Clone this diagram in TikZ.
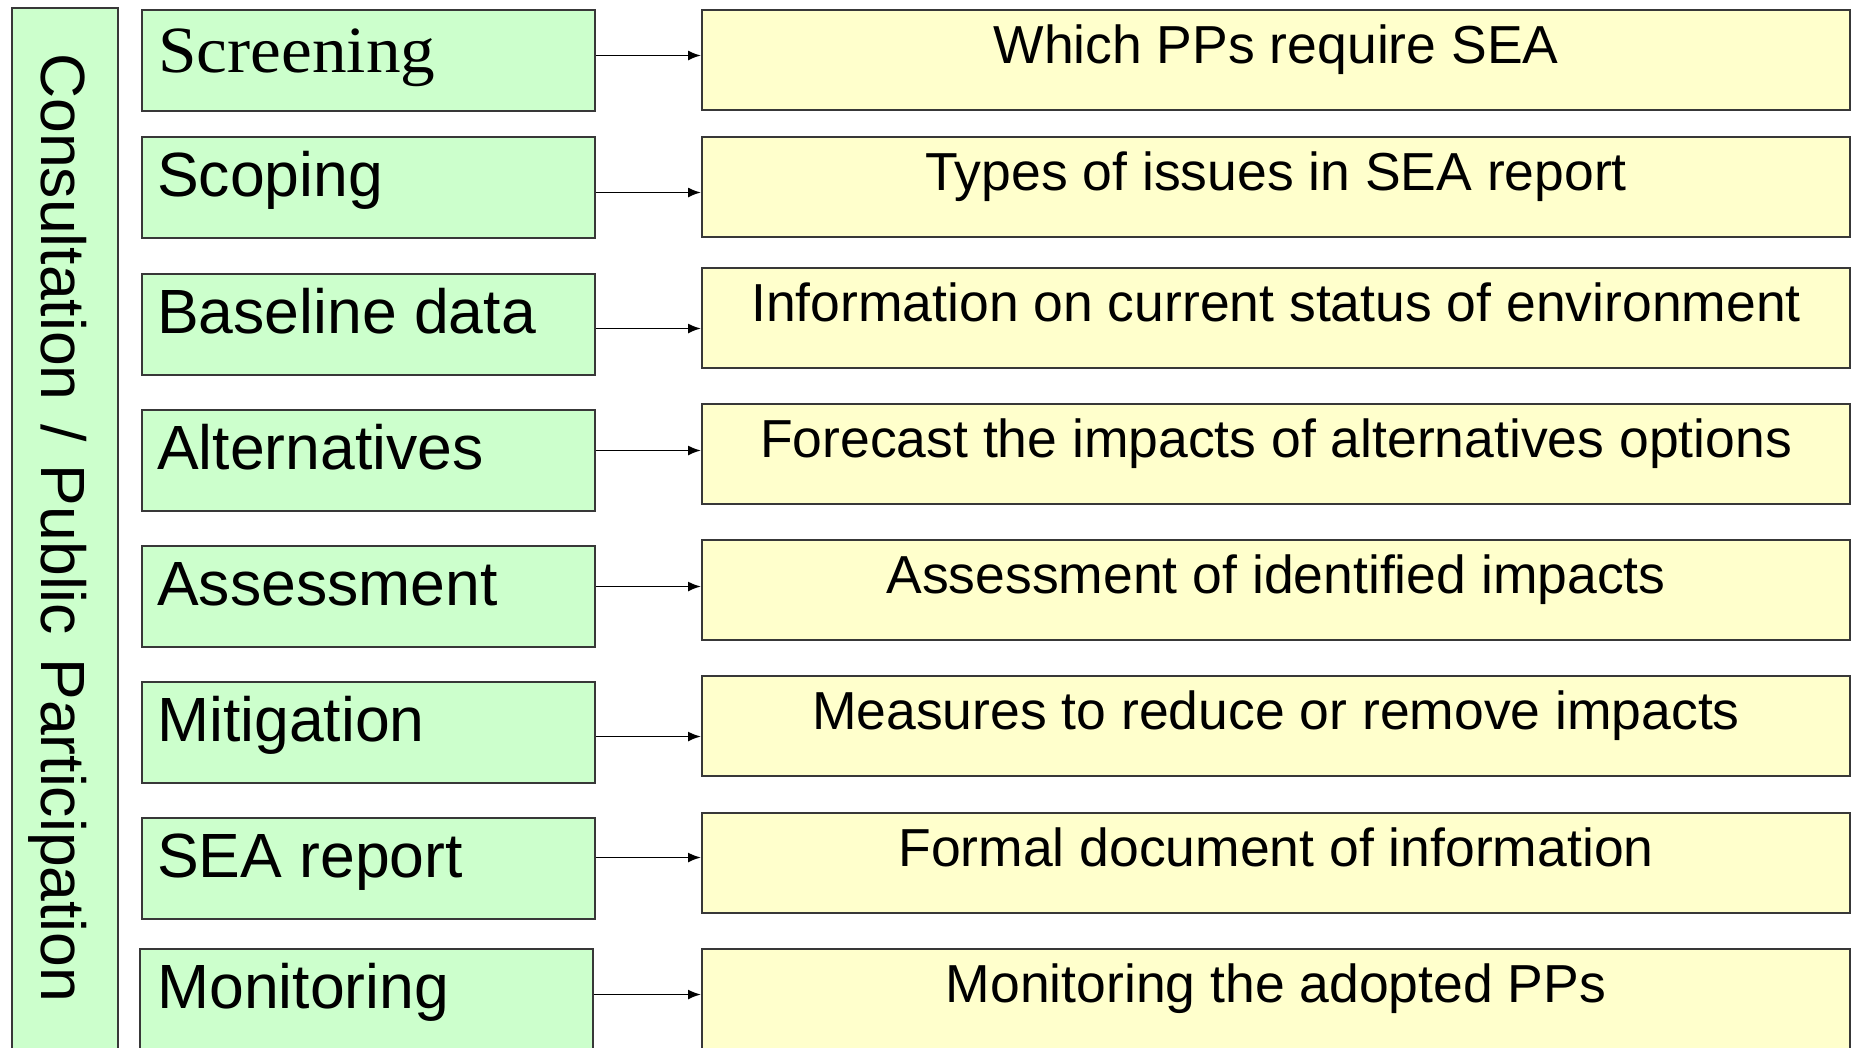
\documentclass[tikz,border=0pt]{standalone}
\usepackage{fontspec}
\setmainfont{Liberation Sans}
\newfontfamily\serifface{Liberation Serif}
\newfontfamily\sideface[WordSpace=1.35]{Liberation Sans}
\usetikzlibrary{arrows.meta}
\definecolor{stepgreen}{HTML}{CCFFCC}
\definecolor{noteyellow}{HTML}{FFFFCC}
\definecolor{edgegray}{HTML}{383838}
\tikzset{
  boxbase/.style={draw=edgegray, line width=2pt, rectangle, inner sep=0pt, anchor=north west},
  greenbox/.style={boxbase, fill=stepgreen, minimum width=453pt, minimum height=101pt},
  yellowbox/.style={boxbase, fill=noteyellow, minimum width=1148pt, minimum height=100pt},
  steptext/.style={anchor=base west, inner sep=0pt, font=\fontsize{62.5}{62.5}\selectfont},
  notetext/.style={anchor=base, inner sep=0pt, font=\fontsize{53.5}{53.5}\selectfont},
  flow/.style={draw=black, line width=1.7pt, -{Latex[length=13pt,width=10pt]}}
}
\begin{document}
\begin{tikzpicture}[x=1pt,y=-1pt]
\useasboundingbox (0,0) rectangle (1853,1047);
\fill[white] (0,0) rectangle (1853,1047);
\clip (0,0) rectangle (1853,1047);

% side bar for consultation
\node[boxbase, fill=stepgreen, minimum width=106pt, minimum height=1060pt] (side) at (11,7) {};
\node[anchor=base west, inner sep=0pt, rotate=-90,
      font=\sideface\fontsize{62.5}{62.5}\selectfont] (sidetext) at (41,53)
      {Consultation / Public Participation};

% step boxes (left column)
\node[greenbox] (g1) at (141,9) {};
\node[greenbox] (g2) at (141,136) {};
\node[greenbox] (g3) at (141,273) {};
\node[greenbox] (g4) at (141,409) {};
\node[greenbox] (g5) at (141,545) {};
\node[greenbox] (g6) at (141,681) {};
\node[greenbox] (g7) at (141,817) {};
\node[greenbox] (g8) at (139,948) {};

\node[anchor=base west, inner sep=0pt, font=\serifface\fontsize{66}{66}\selectfont]
  (t1) at ([xshift=17pt,yshift=-63pt]g1.north west) {\scalebox{1.05}[1]{Screening}};
\node[steptext] (t2) at ([xshift=16pt,yshift=-60pt]g2.north west) {Scoping};
\node[steptext] (t3) at ([xshift=16pt,yshift=-60pt]g3.north west) {Baseline data};
\node[steptext] (t4) at ([xshift=16pt,yshift=-60pt]g4.north west) {Alternatives};
\node[steptext] (t5) at ([xshift=16pt,yshift=-60pt]g5.north west) {Assessment};
\node[steptext] (t6) at ([xshift=16pt,yshift=-60pt]g6.north west) {Mitigation};
\node[steptext] (t7) at ([xshift=16pt,yshift=-60pt]g7.north west) {SEA report};
\node[steptext] (t8) at ([xshift=18pt,yshift=-60pt]g8.north west) {Monitoring};

% description boxes (right column)
\node[yellowbox] (y1) at (701,9) {};
\node[yellowbox] (y2) at (701,136) {};
\node[yellowbox] (y3) at (701,267) {};
\node[yellowbox] (y4) at (701,403) {};
\node[yellowbox] (y5) at (701,539) {};
\node[yellowbox] (y6) at (701,675) {};
\node[yellowbox] (y7) at (701,812) {};
\node[yellowbox] (y8) at (701,948) {};

\node[notetext] (d1) at ([yshift=-54pt]y1.north) {Which PPs require SEA};
\node[notetext] (d2) at ([yshift=-54pt]y2.north) {Types of issues in SEA report};
\node[notetext] (d3) at ([yshift=-54pt]y3.north) {Information on current status of environment};
\node[notetext] (d4) at ([yshift=-54pt]y4.north) {Forecast the impacts of alternatives options};
\node[notetext] (d5) at ([yshift=-54pt]y5.north) {Assessment of identified impacts};
\node[notetext] (d6) at ([yshift=-54pt]y6.north) {Measures to reduce or remove impacts};
\node[notetext] (d7) at ([yshift=-54pt]y7.north) {Formal document of information};
\node[notetext] (d8) at ([yshift=-54pt]y8.north) {Monitoring the adopted PPs};

% connectors
\draw[flow] ([yshift=5pt]g1.east) -- ([yshift=5pt]g1.east -| y1.west);
\draw[flow] ([yshift=-5pt]g2.east) -- ([yshift=-5pt]g2.east -| y2.west);
\draw[flow] ([yshift=-4pt]g3.east) -- ([yshift=-4pt]g3.east -| y3.west);
\draw[flow] ([yshift=10pt]g4.east) -- ([yshift=10pt]g4.east -| y4.west);
\draw[flow] ([yshift=10pt]g5.east) -- ([yshift=10pt]g5.east -| y5.west);
\draw[flow] ([yshift=-4pt]g6.east) -- ([yshift=-4pt]g6.east -| y6.west);
\draw[flow] ([yshift=11pt]g7.east) -- ([yshift=11pt]g7.east -| y7.west);
\draw[flow] ([yshift=5pt]g8.east) -- ([yshift=5pt]g8.east -| y8.west);
\end{tikzpicture}
\end{document}
